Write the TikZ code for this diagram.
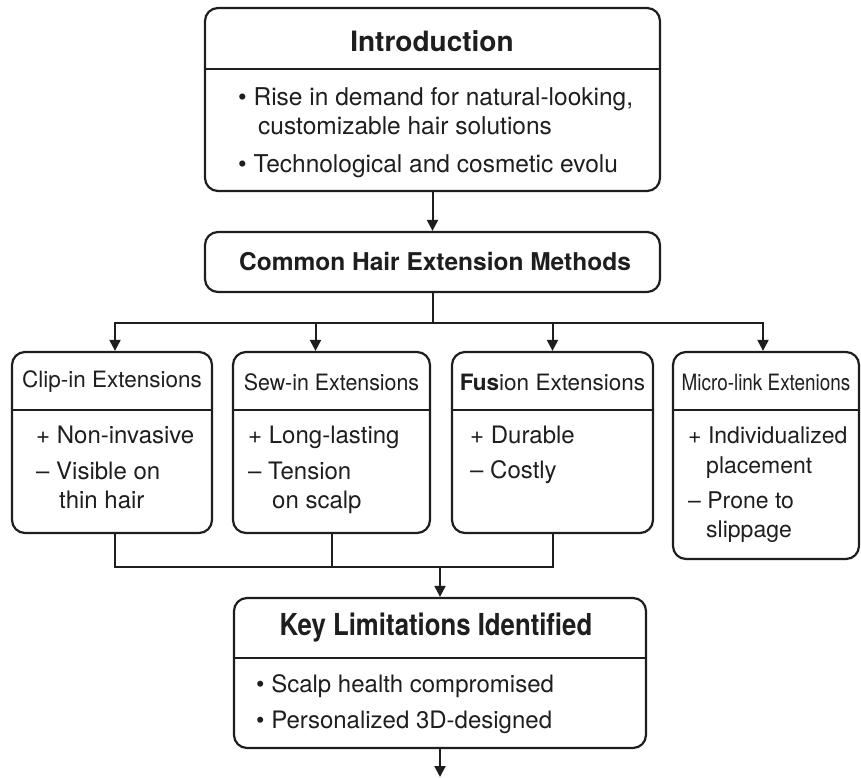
\documentclass[tikz,border=0pt]{standalone}
\usepackage{fontspec}
\setmainfont{TeX Gyre Heros}
\usetikzlibrary{arrows.meta,positioning}
\definecolor{ink}{HTML}{1E1E1E}
\begin{document}
\begin{tikzpicture}[x=1pt,y=-1pt,
  box/.style={draw=ink,line width=2.2pt,rounded corners=13pt,inner sep=0pt},
  rule/.style={draw=ink,line width=2pt},
  link/.style={draw=ink,line width=2pt},
  arr/.style={link,-{Triangle[length=11pt,width=11pt]}},
  head/.style={text=ink,font=\bfseries\fontsize{27}{32}\selectfont,inner sep=0pt},
  sub/.style={text=ink,font=\fontsize{22.5}{27}\selectfont,inner sep=0pt},
  txt/.style={text=ink,font=\fontsize{24.5}{29}\selectfont,inner sep=0pt,anchor=base west},
  small/.style={text=ink,font=\fontsize{24}{28}\selectfont,inner sep=0pt,anchor=base west}]
\useasboundingbox[fill=white] (0,0) rectangle (861,778);

\node[box,minimum width=455,minimum height=183] (intro) at (432.5,99.5) {};
\node[head,font=\bfseries\fontsize{28}{32}\selectfont] (introhead) at (432,41) {Introduction};
\coordinate (introcut) at (0,69);
\draw[rule] (intro.west |- introcut) -- (intro.east |- introcut);
\node[txt] (intro1) at (238,106) {\textbullet\ Rise in demand for natural-looking,};
\node[txt] (intro2) at (258,135) {customizable hair solutions};
\node[txt] (intro3) at (238,172) {\textbullet\ Technological and cosmetic evolu};

\node[box,minimum width=455,minimum height=60] (methods) at (432.5,262) {};
\node[head,font=\bfseries\fontsize{24.5}{29}\selectfont] (methodshead) at (435,262) {Common Hair Extension Methods};

\node[box,minimum width=200,minimum height=181] (clip) at (112,442.5) {};
\node[box,minimum width=197,minimum height=181] (sew) at (331.5,442.5) {};
\node[box,minimum width=201,minimum height=181] (fusion) at (552.5,442.5) {};
\node[box,minimum width=186,minimum height=207] (micro) at (766,455.5) {};
\coordinate (subcut) at (0,410);
\foreach \b in {clip,sew,fusion,micro}
  \draw[rule] (\b.west |- subcut) -- (\b.east |- subcut);

\node[sub] (cliphead) at (112,382) {Clip-in Extensions};
\node[sub] (sewhead) at (331.5,382) {\scalebox{0.95}[1]{Sew-in Extensions}};
\node[sub] (fusionhead) at (552.5,382) {\textbf{Fus}ion Extensions};
\node[sub] (microhead) at (766,382) {\scalebox{0.84}[1]{Micro-link Extenions}};

\node[small] (clip1) at (36,443) {+ Non-invasive};
\node[small] (clip2) at (36,479) {– Visible on};
\node[small] (clip3) at (59,508) {thin hair};
\node[small] (sew1) at (248,443) {+ Long-lasting};
\node[small] (sew2) at (248,479) {– Tension};
\node[small] (sew3) at (272,508) {on scalp};
\node[small] (fusion1) at (470,443) {+ Durable};
\node[small] (fusion2) at (470,478) {– Costly};
\node[small,font=\fontsize{23}{27}\selectfont] (micro1) at (688,443) {+ Individualized};
\node[small,font=\fontsize{23}{27}\selectfont] (micro2) at (706,473) {placement};
\node[small,font=\fontsize{23}{27}\selectfont] (micro3) at (688,508) {– Prone to};
\node[small,font=\fontsize{23}{27}\selectfont] (micro4) at (706,537) {slippage};

\node[box,minimum width=412,minimum height=150] (key) at (440,673) {};
\node[head,font=\bfseries\fontsize{28}{32}\selectfont] (keyhead) at (436,628) {\scalebox{0.92}[1.08]{Key Limitations Identified}};
\coordinate (keycut) at (0,658);
\draw[rule] (key.west |- keycut) -- (key.east |- keycut);
\node[txt,font=\fontsize{24}{28}\selectfont] (key1) at (256,692) {\textbullet\ Scalp health compromised};
\node[txt,font=\fontsize{24}{28}\selectfont] (key2) at (256,728) {\textbullet\ Personalized 3D-designed};

\draw[arr] (intro.south) -- (methods.north);
\coordinate (split) at (433,323);
\draw[link] (methods.south -| split) -- (split);
\draw[arr] (split) -| ([xshift=3pt]clip.north);
\draw[arr] (split) -| ([xshift=-16pt]sew.north);
\draw[arr] (split) -| (fusion.north);
\draw[arr] (split) -| ([xshift=-3pt]micro.north);

\coordinate (join) at (440,567);
\draw[link] ([xshift=3pt]clip.south) |- (join) -| (fusion.south);
\draw[link] (sew.south) -- (sew.south |- join);
\draw[arr] (join) -- (key.north);
\coordinate (tail) at (440,777);
\draw[arr] (key.south) -- (tail);
\end{tikzpicture}
\end{document}
